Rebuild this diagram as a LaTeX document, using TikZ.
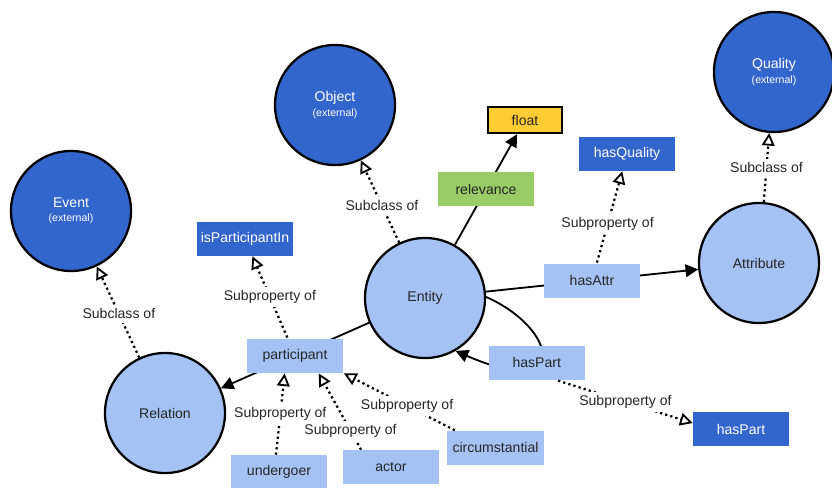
\documentclass[tikz,border=0pt]{standalone}
\usepackage{fontspec}
\setmainfont{Liberation Sans}
\usetikzlibrary{arrows.meta}

\definecolor{extblue}{HTML}{3366CC}
\definecolor{lightblue}{HTML}{A4C2F4}
\definecolor{relgreen}{HTML}{99CC66}
\definecolor{valyellow}{HTML}{FFCC33}

\newcommand{\extnotefont}{\fontsize{7.5}{9}\selectfont}

\tikzset{
	classnode/.style={circle, draw, line width=1.6pt, fill=lightblue, minimum size=3cm, inner sep=0pt, align=center, text=black!85, font=\fontsize{10}{12}\selectfont},
	extnode/.style={classnode, fill=extblue, text=white},
	propbox/.style={rectangle, fill=lightblue, minimum width=2.4cm, minimum height=0.85cm, inner sep=0pt, text=black!85, font=\fontsize{10}{12}\selectfont},
	extbox/.style={propbox, fill=extblue, text=white},
	relbox/.style={propbox, fill=relgreen},
	valbox/.style={propbox, draw, line width=1.6pt, fill=valyellow, minimum width=1.85cm, minimum height=0.65cm},
	relarrow/.style={line width=1.3pt, -{Triangle[length=9pt, width=9pt]}},
	subarrow/.style={line width=1.6pt, dash pattern=on 1.6pt off 2.2pt, -{Triangle[open, length=9pt, width=9pt, line width=1.3pt]}},
	sublabel/.style={fill=white, inner xsep=3pt, inner ysep=2.5pt, text=black!85, font=\fontsize{10}{12}\selectfont}
}

\begin{document}
\begin{tikzpicture}[x=0.025cm, y=-0.025cm]
	\useasboundingbox (0,0) rectangle (832,487);
	\node[classnode] (entity) at (425,298) {Entity};
	\node[classnode] (relation) at (165,413) {Relation};
	\node[classnode] (attribute) at (759,263) {Attribute};
	\node[extnode] (event) at (71,211) {Event\\[-2pt]{\extnotefont(external)}};
	\node[extnode] (object) at (335,105) {Object\\[-2pt]{\extnotefont(external)}};
	\node[extnode] (quality) at (774,72) {Quality\\[-2pt]{\extnotefont(external)}};
	\node[valbox] (float) at (525,120) {float};
	\node[extbox] (isparticipantin) at (245,239) {isParticipantIn};
	\node[extbox] (hasquality) at (627,154) {hasQuality};
	\node[extbox] (haspartext) at (741,429) {hasPart};
	\node[propbox] (undergoer) at (279,472) {undergoer};
	\node[propbox] (actor) at (391,467) {actor};
	\node[propbox] (circumstantial) at (495.5,447.5) {circumstantial};
	\draw[relarrow] (entity) -- node[propbox] (participant) {participant} (relation);
	\draw[relarrow] (entity) -- node[relbox] (relevance) {relevance} (float);
	\draw[relarrow] (entity) -- node[propbox] (hasattr) {hasAttr} (attribute);
	\draw[relarrow] (entity.1) .. controls +(72,32) and +(115,50) .. (entity.-60) node[propbox, pos=0.6] (haspart) {hasPart};
	\draw[subarrow] (relation) -- node[sublabel, pos=0.48] (subevent) {Subclass of} (event);
	\draw[subarrow] (entity) -- node[sublabel, pos=0.45] (subobject) {Subclass of} (object);
	\draw[subarrow] (attribute) -- node[sublabel] (subquality) {Subclass of} (quality);
	\draw[subarrow] (participant) -- node[sublabel] (subisp) {Subproperty of} (isparticipantin);
	\draw[subarrow] (hasattr) -- node[sublabel, pos=0.42] (subhasquality) {Subproperty of} (hasquality);
	\draw[subarrow] (actor.150) -- node[sublabel, pos=0.25] (subactor) {Subproperty of} (participant.-37);
	\draw[subarrow] (undergoer.100) -- node[sublabel] (subundergoer) {Subproperty of} (participant.-120);
	\draw[subarrow] (circumstantial.157) -- node[sublabel, pos=0.43] (subcirc) {Subproperty of} (participant.south east);
	\draw[subarrow] (haspart.-40) -- node[sublabel] (subhaspart) {Subproperty of} (haspartext.173);
\end{tikzpicture}
\end{document}
